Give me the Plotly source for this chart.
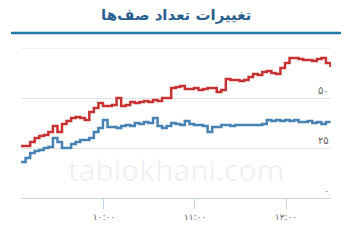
import pandas as pd
import plotly.graph_objects as go

title_text = "تغییرات تعداد صف‌ها"
watermark = "tablokhani.com"

red_values = [26, 26, 28, 30, 31, 31.5, 33, 36, 33, 37, 38.5, 40, 40.5, 40, 39, 43, 45, 47.5,
              46, 46, 46.5, 50, 46, 46.5, 48, 47.5, 48, 48.5, 48, 49, 48.5, 50, 50, 55, 55.5,
              56, 54.5, 54.5, 55, 54, 54.5, 55, 55, 53, 54, 59.5, 59, 59, 58.5, 59, 60.5, 62,
              61.5, 63, 63.5, 62.5, 62, 65, 67.5, 70, 70, 69.5, 69, 69, 68.5, 69.5, 70, 67.5, 65.5]
blue_values = [18, 20, 22.5, 23.5, 24, 25, 25.5, 30, 28, 25, 25, 27, 28, 29, 29, 30, 33, 35,
               39, 35.5, 35.5, 35, 36, 36.5, 36, 37.5, 37, 38, 37.5, 40, 36, 35, 36, 37.5, 37,
               36.5, 38.5, 37, 36.5, 36.5, 36, 33, 35.5, 35.5, 36.5, 36.5, 36, 36.5, 36.5, 36.5,
               36.5, 36.5, 36.5, 37, 39, 38.5, 39, 38.5, 39, 38.5, 39, 38, 38, 38.5, 37.5, 38, 37, 38, 38]
times = pd.date_range("2024-01-01 09:05:20", periods=len(red_values), freq="3min")

x_tick_vals = ["2024-01-01 10:00", "2024-01-01 11:00", "2024-01-01 12:00"]
x_tick_text = ["۱۰:۰۰", "۱۱:۰۰", "۱۲:۰۰"]
y_tick_vals = [0, 25, 50]
y_tick_text = ["۰", "۲۵", "۵۰"]

fig = go.Figure()
fig.add_trace(go.Scatter(x=times, y=red_values, mode="lines",
                         line=dict(color="#c93232", width=2.5, shape="hv"), showlegend=False))
fig.add_trace(go.Scatter(x=times, y=blue_values, mode="lines",
                         line=dict(color="#4682b4", width=2.5, shape="hv"), showlegend=False))

annotations = [dict(text="<b>" + title_text + "</b>", xref="paper", yref="paper", x=0.5, y=1.22,
                    xanchor="center", yanchor="middle", showarrow=False,
                    font=dict(family="DejaVu Sans", size=15, color="#2a6090"))]
annotations.append(dict(text=watermark, xref="paper", yref="paper", x=0.5, y=0.19,
                        xanchor="center", yanchor="middle", showarrow=False,
                        font=dict(family="Open Sans", size=30, color="rgba(0,0,0,0.065)")))
for v, t in zip(y_tick_vals, y_tick_text):
    annotations.append(dict(text=t, xref="paper", yref="y", x=1, y=v, xanchor="right", yanchor="bottom",
                            showarrow=False, font=dict(family="DejaVu Sans", size=10, color="#666666")))

fig.update_layout(
    width=354, height=246,
    margin=dict(l=21, r=23, t=48, b=48),
    paper_bgcolor="white", plot_bgcolor="white",
    annotations=annotations,
    shapes=[
        dict(type="line", xref="paper", yref="paper", x0=-10 / 310, x1=320 / 310, y0=1.1, y1=1.1,
             line=dict(color="#2279ab", width=2.5)),
        dict(type="line", xref="paper", yref="y", x0=0, x1=1, y0=75, y1=75,
             line=dict(color="#e3e3e3", width=1)),
    ],
)
fig.update_xaxes(range=["2024-01-01 09:05:18", "2024-01-01 12:29:40"], tickvals=x_tick_vals,
                 ticktext=x_tick_text, showgrid=False, ticks="outside", ticklen=10, tickcolor="#c4d2e6",
                 showline=True, linecolor="#c4d2e6", linewidth=1,
                 tickfont=dict(family="DejaVu Sans", size=9, color="#666666"), zeroline=False)
fig.update_yaxes(range=[0, 75], tickvals=[0, 25, 50, 75], showticklabels=False, showgrid=True,
                 gridcolor="#e3e3e3", zeroline=False, showline=False)

fig.write_html("out.html")
